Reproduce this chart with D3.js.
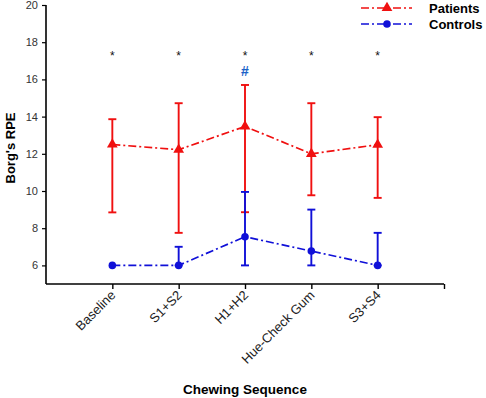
<!DOCTYPE html>
<html>
<head>
<meta charset="utf-8">
<script src="https://cdn.jsdelivr.net/npm/d3@7"></script>
<style>
  body { margin: 0; background: #fff; }
  svg { display: block; font-family: "Liberation Sans", Arial, Helvetica, sans-serif; }
</style>
</head>
<body>
<div id="chart"></div>
<script>
const WIDTH = 486;
const HEIGHT = 398;
const MARGIN = { top: 5, left: 46, right: 42, bottom: 114 };

// data
const categories = ["Baseline", "S1+S2", "H1+H2", "Hue-Check Gum", "S3+S4"];
const patientsMean = [12.5, 12.22, 13.47, 12.0, 12.49];
const patientsHigh = [13.86, 14.72, 15.7, 14.72, 13.97];
const patientsLow = [8.85, 7.75, 8.86, 9.77, 9.63];
const controlsMean = [6.0, 6.0, 7.54, 6.77, 6.0];
const controlsHigh = [null, 7.0, 9.95, 9.0, 7.75];
const controlsLow = [null, 6.0, 6.0, 6.0, 6.0];
const starLevel = 17.3;
const hashLevel = 16.5;
const yTicks = [6, 8, 10, 12, 14, 16, 18, 20];

const RED = "#f01010";
const BLUE = "#1010d8";

const svg = d3.select("#chart").append("svg")
  .attr("width", WIDTH)
  .attr("height", HEIGHT);

const plotW = WIDTH - MARGIN.left - MARGIN.right;
const plotH = HEIGHT - MARGIN.top - MARGIN.bottom;

const x = d3.scaleLinear().domain([0, categories.length + 1]).range([0, plotW]);
const y = d3.scaleLinear().domain([5, 20]).range([plotH, 0]);

const g = svg.append("g")
  .attr("transform", `translate(${MARGIN.left}, ${MARGIN.top})`);

// axes
const xAxis = g.append("g")
  .attr("transform", `translate(0, ${plotH})`)
  .call(d3.axisBottom(x)
    .tickValues(d3.range(1, categories.length + 2))
    .tickSize(5)
    .tickFormat(""));
xAxis.select(".domain").attr("stroke", "#000").attr("stroke-width", 1.6).attr("d", `M0,0H${plotW}`);
xAxis.selectAll(".tick line").attr("stroke", "#000").attr("stroke-width", 1.4);

xAxis.selectAll(".cat")
  .data(categories)
  .join("text")
    .attr("class", "cat")
    .attr("transform", (d, i) => `translate(${x(i + 1) + 4}, 12) rotate(-45)`)
    .attr("text-anchor", "end")
    .attr("font-size", 13)
    .attr("fill", "#222")
    .text(d => d);

const yAxis = g.append("g")
  .call(d3.axisLeft(y).tickValues(yTicks).tickSize(4).tickPadding(4));
yAxis.select(".domain").attr("stroke", "#000").attr("stroke-width", 1.6).attr("d", `M0,0V${plotH}`);
yAxis.selectAll(".tick line").attr("stroke", "#000").attr("stroke-width", 1.2);
yAxis.selectAll(".tick text")
  .attr("font-size", 11)
  .attr("font-family", "Liberation Sans, Arial, sans-serif")
  .attr("fill", "#333");

// axis titles
svg.append("text")
  .attr("transform", `translate(15, ${MARGIN.top + 143}) rotate(-90)`)
  .attr("text-anchor", "middle")
  .attr("font-size", 13)
  .attr("font-weight", "bold")
  .text("Borg's RPE");

svg.append("text")
  .attr("x", MARGIN.left + x(3))
  .attr("y", 394)
  .attr("text-anchor", "middle")
  .attr("font-size", 13.5)
  .attr("font-weight", "bold")
  .text("Chewing Sequence");

const series = [
  { name: "Patients", mean: patientsMean, hi: patientsHigh, lo: patientsLow, color: RED, shape: d3.symbolTriangle },
  { name: "Controls", mean: controlsMean, hi: controlsHigh, lo: controlsLow, color: BLUE, shape: d3.symbolCircle },
];

const line = d3.line()
  .x((d, i) => x(i + 1))
  .y(d => y(d));

series.forEach(s => {
  const sg = g.append("g");

  // error bars
  s.mean.forEach((m, i) => {
    const cx = x(i + 1);
    if (s.hi[i] != null) {
      sg.append("line")
        .attr("x1", cx).attr("x2", cx)
        .attr("y1", y(s.hi[i])).attr("y2", y(m))
        .attr("stroke", s.color).attr("stroke-width", 1.9);
      sg.append("line")
        .attr("x1", cx - 4).attr("x2", cx + 4)
        .attr("y1", y(s.hi[i])).attr("y2", y(s.hi[i]))
        .attr("stroke", s.color).attr("stroke-width", 1.9);
    }
    if (s.lo[i] != null) {
      sg.append("line")
        .attr("x1", cx).attr("x2", cx)
        .attr("y1", y(m)).attr("y2", y(s.lo[i]))
        .attr("stroke", s.color).attr("stroke-width", 1.9);
      sg.append("line")
        .attr("x1", cx - 4).attr("x2", cx + 4)
        .attr("y1", y(s.lo[i])).attr("y2", y(s.lo[i]))
        .attr("stroke", s.color).attr("stroke-width", 1.9);
    }
  });

  sg.append("path")
    .datum(s.mean)
    .attr("d", line)
    .attr("fill", "none")
    .attr("stroke", s.color)
    .attr("stroke-width", 1.7)
    .attr("stroke-dasharray", "8,3,2,3");

  sg.selectAll(".mk")
    .data(s.mean)
    .join("path")
      .attr("class", "mk")
      .attr("transform", (d, i) => `translate(${x(i + 1)}, ${y(d)})`)
      .attr("d", d3.symbol().type(s.shape).size(s.shape === d3.symbolTriangle ? 50 : 45))
      .attr("fill", s.color);
});

// significance markers
g.selectAll(".star")
  .data(categories)
  .join("text")
    .attr("class", "star")
    .attr("x", (d, i) => x(i + 1))
    .attr("y", y(starLevel) + 5)
    .attr("text-anchor", "middle")
    .attr("font-size", 12)
    .attr("fill", "#111")
    .text("*");

g.append("text")
  .attr("x", x(3))
  .attr("y", y(hashLevel) + 6)
  .attr("text-anchor", "middle")
  .attr("font-size", 14)
  .attr("font-weight", "bold")
  .attr("fill", "#1a62c8")
  .text("#");

// legend
const leg = svg.append("g").attr("transform", "translate(361, 8)");
series.forEach((s, i) => {
  const row = leg.append("g").attr("transform", `translate(0, ${i * 16})`);
  row.append("line")
    .attr("x1", 0).attr("x2", 51)
    .attr("y1", 0).attr("y2", 0)
    .attr("stroke", s.color)
    .attr("stroke-width", 1.7)
    .attr("stroke-dasharray", "8,3,2,3");
  row.append("path")
    .attr("transform", "translate(26, 0)")
    .attr("d", d3.symbol().type(s.shape).size(s.shape === d3.symbolTriangle ? 50 : 45))
    .attr("fill", s.color);
  row.append("text")
    .attr("x", 68)
    .attr("y", 5)
    .attr("font-size", 13)
    .attr("font-weight", "bold")
    .text(s.name);
});
</script>
</body>
</html>
